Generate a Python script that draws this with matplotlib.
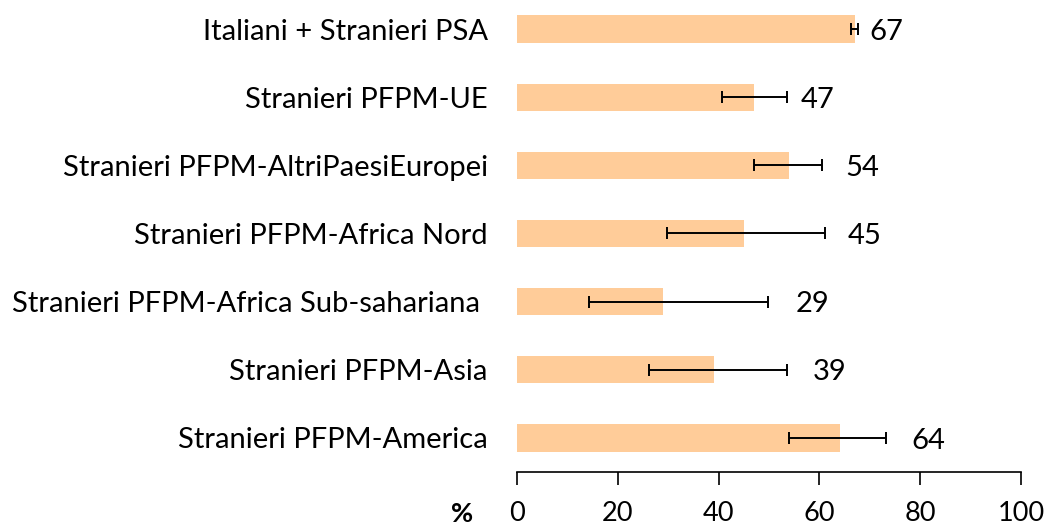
import matplotlib.pyplot as plt

# ======================
# DATI
# ======================
categorie = [
    "Italiani + Stranieri PSA",
    "Stranieri PFPM-UE",
    "Stranieri PFPM-AltriPaesiEuropei",
    "Stranieri PFPM-Africa Nord",
    "Stranieri PFPM-Africa Sub-sahariana ",
    "Stranieri PFPM-Asia",
    "Stranieri PFPM-America",
]
valori = [67, 47, 54, 45, 29, 39, 64]
ic_basso = [66.3, 40.7, 47.0, 29.7, 14.2, 26.1, 53.9]
ic_alto = [67.6, 53.5, 60.5, 61.2, 49.9, 53.5, 73.2]
tick_x = [0, 20, 40, 60, 80, 100]

plt.rcParams['font.family'] = ['Lato', 'DejaVu Sans']

fig = plt.figure(figsize=(10.48, 5.26), dpi=100)
ax = fig.add_axes([0.4933, 0.1027, 0.4809, 0.8973])

ypos = list(range(len(categorie)))
err = [[v - lo for v, lo in zip(valori, ic_basso)],
       [hi - v for v, hi in zip(valori, ic_alto)]]

ax.barh(ypos, valori, height=0.4, color="#FFCC99", zorder=1)
ax.errorbar(valori, ypos, xerr=err, fmt="none", ecolor="black",
            elinewidth=1.4, capsize=4, capthick=1.4, zorder=2)

# etichette dei valori (posizionate a mano come nell'originale)
lbl_x = [70.0, 56.2, 65.1, 65.7, 55.2, 58.7, 78.2]
for y, v, lx in zip(ypos, valori, lbl_x):
    ax.text(lx, y + 0.04, f"{v}", va="center", ha="left", fontsize=21)

ax.set_xlim(0, 100)
ax.set_ylim(6.5, -0.426)
ax.set_yticks(ypos)
ax.set_yticklabels(categorie, fontsize=21)
ax.tick_params(axis="y", length=0, pad=21)
ax.set_xticks(tick_x)
ax.tick_params(axis="x", labelsize=19.5, length=9, width=1.2, pad=12)

for s in ["top", "right", "left"]:
    ax.spines[s].set_visible(False)
ax.spines["bottom"].set_linewidth(1.2)

fig.text(462 / 1048, 1 - 514 / 526, "%", fontsize=19.5, fontweight="bold",
         ha="center", va="center")

fig.savefig("out.png", dpi=100)
